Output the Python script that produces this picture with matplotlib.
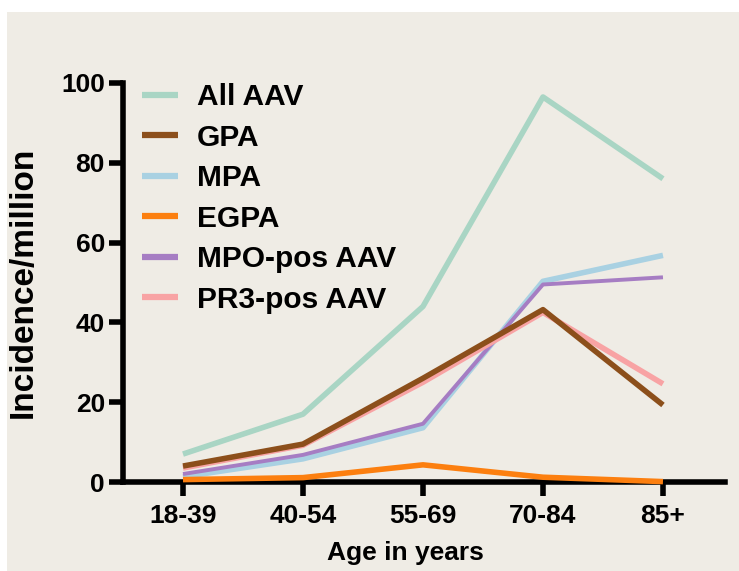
import matplotlib.pyplot as plt
from matplotlib.patches import Rectangle

plt.rcParams['font.family'] = 'Liberation Sans'
plt.rcParams['font.weight'] = 'bold'

ages = ['18-39', '40-54', '55-69', '70-84', '85+']

all_aav = [7.0, 17.0, 44.0, 96.5, 76.0]
gpa = [4.0, 9.5, 26.0, 43.2, 19.3]
mpa = [1.3, 5.8, 13.6, 50.3, 56.8]
egpa = [0.6, 1.1, 4.3, 1.2, 0.1]
mpo = [2.0, 6.8, 14.6, 49.5, 51.3]
pr3 = [3.5, 9.2, 25.0, 42.5, 24.6]

bg = '#EFECE5'

fig = plt.figure(figsize=(7.39, 5.71), dpi=100, facecolor='white')
bg_rect = Rectangle((7 / 739, 0), 1, 1 - 12 / 571, transform=fig.transFigure,
                    facecolor=bg, edgecolor='none', zorder=-10)
fig.add_artist(bg_rect)
ax = fig.add_axes([123 / 739, 1 - 482 / 571, (725 - 123) / 739, (482 - 83) / 571])
ax.set_facecolor(bg)

x = list(range(len(ages)))
lw = 4
# drawing order so the overlaps look like the original
ax.plot(x, all_aav, color='#A9D5C4', lw=lw, label='All AAV', zorder=3, clip_on=False, solid_capstyle='butt')
ax.plot(x, mpa, color='#A9D1E2', lw=lw, label='MPA', zorder=4, clip_on=False, solid_capstyle='butt')
ax.plot(x, mpo, color='#A67DC3', lw=lw * 0.7, label='MPO-pos AAV', zorder=5, clip_on=False, solid_capstyle='butt')
ax.plot(x, pr3, color='#F8A3A4', lw=lw, label='PR3-pos AAV', zorder=6, clip_on=False, solid_capstyle='butt')
ax.plot(x, gpa, color='#8C4F1B', lw=lw, label='GPA', zorder=7, clip_on=False, solid_capstyle='butt')
ax.plot(x, egpa, color='#FC7F0F', lw=lw, label='EGPA', zorder=8, clip_on=False, solid_capstyle='butt')

ax.set_xlim(-0.5, 4.517)
ax.set_ylim(0, 100)
ax.set_xticks(x)
ax.set_xticklabels(ages)
ax.set_yticks([0, 20, 40, 60, 80, 100])

for s in ['top', 'right']:
    ax.spines[s].set_visible(False)
for s in ['left', 'bottom']:
    ax.spines[s].set_linewidth(4)
ax.tick_params(axis='both', width=4, length=10, labelsize=19)
ax.tick_params(axis='x', pad=6)
ax.tick_params(axis='y', pad=3)

ax.set_ylabel('Incidence/million', fontsize=24, fontweight='bold', labelpad=16)
ax.set_xlabel('Age in years', fontsize=19, fontweight='bold')
ax.xaxis.set_label_coords((405 - 123) / 602, -0.148)

handles, labels = ax.get_legend_handles_labels()
order = ['All AAV', 'GPA', 'MPA', 'EGPA', 'MPO-pos AAV', 'PR3-pos AAV']
h = [handles[labels.index(o)] for o in order]
leg = ax.legend(h, order, loc='upper left', bbox_to_anchor=(19 / 602, 1.0), frameon=False,
                fontsize=21.5, handlelength=1.2, handletextpad=0.65, labelspacing=0.42,
                borderpad=0, borderaxespad=0)
for line in leg.get_lines():
    line.set_linewidth(4.5)

fig.savefig('out.png', dpi=100, facecolor='white')
